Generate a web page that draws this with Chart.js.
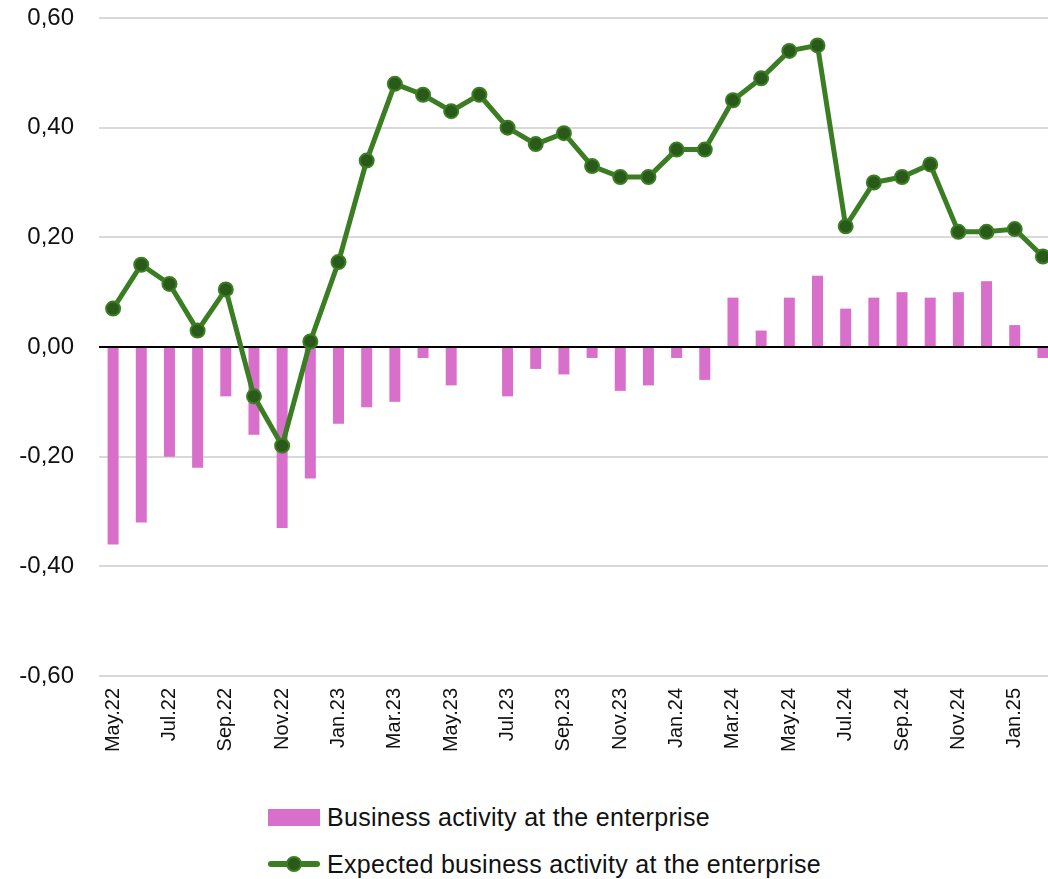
<!DOCTYPE html>
<html>
<head>
<meta charset="utf-8">
<script src="https://cdn.jsdelivr.net/npm/chart.js@4"></script>
<style>
  html, body { margin: 0; padding: 0; background: #fff; overflow: hidden; width: 1048px; height: 879px; }
  #wrap { position: absolute; left: 0; top: 0; width: 1066px; height: 790px; }
  #legend { position: absolute; left: 268px; top: 802px; font-family: "Liberation Sans", Arial, sans-serif; font-size: 25px; letter-spacing: 0.3px; color: #111; }
  .item { display: flex; align-items: center; height: 30px; margin-bottom: 17px; }
  .swatch { width: 52px; height: 17px; margin-right: 7px; position: relative; flex: none; }
</style>
</head>
<body>
<div id="wrap"><canvas id="chart" width="1066" height="790"></canvas></div>
<div id="legend"></div>
<script>
const months = ["May.22","Jun.22","Jul.22","Aug.22","Sep.22","Oct.22","Nov.22","Dec.22",
  "Jan.23","Feb.23","Mar.23","Apr.23","May.23","Jun.23","Jul.23","Aug.23","Sep.23","Oct.23","Nov.23","Dec.23",
  "Jan.24","Feb.24","Mar.24","Apr.24","May.24","Jun.24","Jul.24","Aug.24","Sep.24","Oct.24","Nov.24","Dec.24",
  "Jan.25","Feb.25"];

const activity = [-0.36,-0.32,-0.20,-0.22,-0.09,-0.16,-0.33,-0.24,
  -0.14,-0.11,-0.10,-0.02,-0.07,0.00,-0.09,-0.04,-0.05,-0.02,-0.08,-0.07,
  -0.02,-0.06,0.09,0.03,0.09,0.13,0.07,0.09,0.10,0.09,0.10,0.12,
  0.04,-0.02];

const expected = [0.07,0.15,0.115,0.03,0.105,-0.09,-0.18,0.01,
  0.155,0.34,0.48,0.46,0.43,0.46,0.40,0.37,0.39,0.33,0.31,0.31,
  0.36,0.36,0.45,0.49,0.54,0.55,0.22,0.30,0.31,0.333,0.21,0.21,
  0.215,0.165];

const seriesNames = ["Business activity at the enterprise", "Expected business activity at the enterprise"];

const pink = "#d86fcb";
const green = "#3b7d23";
const darkGreen = "#2a5a1a";

const ctx = document.getElementById("chart");

new Chart(ctx, {
  data: {
    labels: months,
    datasets: [
      {
        type: "line",
        label: seriesNames[1],
        data: expected,
        borderColor: green,
        borderWidth: 5,
        pointRadius: 7,
        pointBackgroundColor: darkGreen,
        pointBorderColor: green,
        pointBorderWidth: 2,
        tension: 0,
        order: 1
      },
      {
        type: "bar",
        label: seriesNames[0],
        data: activity,
        backgroundColor: pink,
        barPercentage: 0.39,
        categoryPercentage: 1,
        order: 2
      }
    ]
  },
  options: {
    responsive: false,
    animation: false,
    layout: { padding: { top: 18, right: 0, left: 0, bottom: 0 } },
    plugins: { legend: { display: false }, tooltip: { enabled: false } },
    scales: {
      x: {
        grid: { display: false },
        border: { display: false },
        ticks: {
          autoSkip: false,
          minRotation: 90,
          maxRotation: 90,
          padding: 4,
          color: "#111",
          font: { family: "Liberation Sans", size: 20 },
          callback: function (v, i) { return i % 2 === 0 ? months[i] : ""; }
        },
        afterFit: function (s) { s.height = 114; s.paddingLeft = 0; s.paddingRight = 0; }
      },
      y: {
        min: -0.6,
        max: 0.6,
        border: { display: false },
        grid: {
          color: ctx => ctx.tick && Math.abs(ctx.tick.value) < 1e-9 ? "#000" : "#d9d9d9",
          lineWidth: 2,
          drawTicks: false
        },
        ticks: {
          stepSize: 0.2,
          padding: 25,
          color: "#111",
          font: { family: "Liberation Sans", size: 24 },
          callback: v => v.toFixed(2).replace(".", ",")
        },
        afterFit: function (s) { s.width = 99; s.paddingTop = 0; s.paddingBottom = 0; }
      }
    }
  }
});

// legend
const legend = document.getElementById("legend");
legend.innerHTML = `
  <div class="item"><span class="swatch" style="background:${pink}"></span>${seriesNames[0]}</div>
  <div class="item"><span class="swatch" style="height:24px">
    <span style="position:absolute;left:0;top:9px;width:52px;height:6px;background:${green};border-radius:3px"></span>
    <span style="position:absolute;left:18px;top:4px;width:12px;height:12px;border-radius:50%;background:${darkGreen};border:2px solid ${green}"></span>
  </span>${seriesNames[1]}</div>`;
</script>
</body>
</html>
